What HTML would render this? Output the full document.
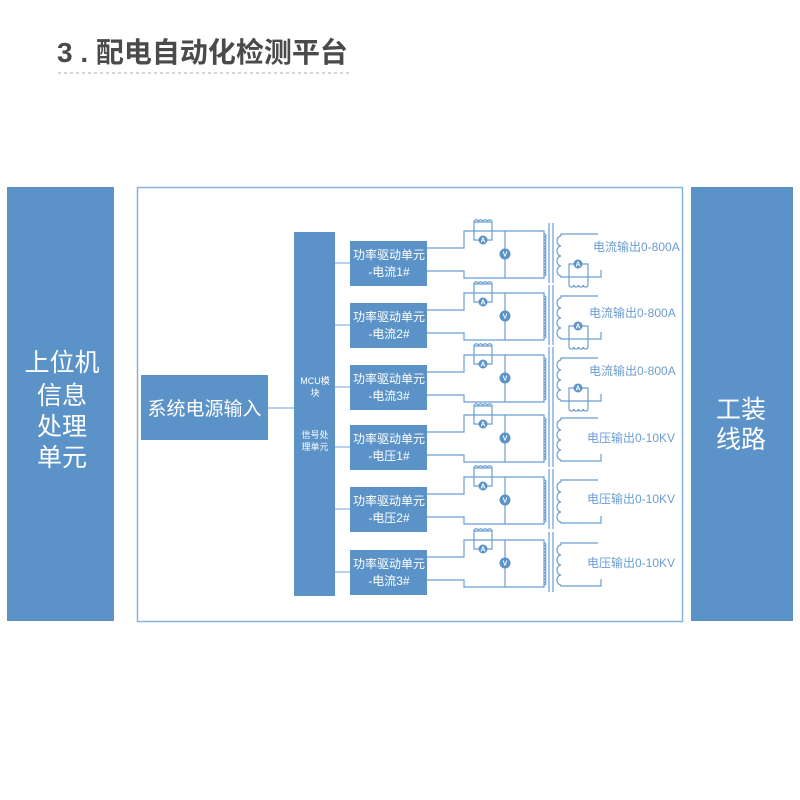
<!DOCTYPE html>
<html><head><meta charset="utf-8"><style>
html,body{margin:0;padding:0;background:#fff;}
svg{display:block}
text{font-family:"Liberation Sans","Noto Sans CJK SC",sans-serif;}
</style></head><body>
<svg width="800" height="800" viewBox="0 0 800 800" xmlns="http://www.w3.org/2000/svg">
<defs>
<g id="prim" fill="none" stroke="#6b9dd0" stroke-width="1.2">
  <path d="M427 248 H464 V231 H544 V278 H464 V271 H427"/>
  <path d="M505 231 V278"/>
  <path d="M474 231 V240 H492 V231"/>
  <path d="M474 231 V222 H492 V231" />
  <path d="M474 222 a2.2 2.2 0 0 1 4.5 0 a2.2 2.2 0 0 1 4.5 0 a2.2 2.2 0 0 1 4.5 0 a2.2 2.2 0 0 1 4.5 0"/>
  <path d="M544 234 a2 1.5 0 0 1 0 3 a2 1.5 0 0 1 0 3 a2 1.5 0 0 1 0 3 a2 1.5 0 0 1 0 3 a2 1.5 0 0 1 0 3 a2 1.5 0 0 1 0 3 a2 1.5 0 0 1 0 3 a2 1.5 0 0 1 0 3 a2 1.5 0 0 1 0 3 a2 1.5 0 0 1 0 3 a2 1.5 0 0 1 0 3 a2 1.5 0 0 1 0 3 a2 1.5 0 0 1 0 3 a2 1.5 0 0 1 0 3"/>
  <path d="M549 223 V283 M553 223 V283"/>
  <circle cx="483" cy="240" r="4.5" fill="#5b93c8" stroke="none"/>
  <circle cx="505" cy="254" r="5.5" fill="#5b93c8" stroke="none"/>
</g>
<g id="sec" fill="none" stroke="#6b9dd0" stroke-width="1.2">
  <path d="M598 234 H561 V236"/>
  <path d="M561 236 a4 5 0 0 0 0 10 a4 5 0 0 0 0 10 a4 5 0 0 0 0 10 a4 5 0 0 0 0 10"/>
  <path d="M561 276 V277 H601 V270"/>
</g>
<g id="secA" fill="none" stroke="#6b9dd0" stroke-width="1.2">
  <path d="M569 277 V264 H588 V277"/>
  <path d="M569 277 V285 M588 277 V285 M569 285 a2.4 2.4 0 0 0 4.75 0 a2.4 2.4 0 0 0 4.75 0 a2.4 2.4 0 0 0 4.75 0 a2.4 2.4 0 0 0 4.75 0"/>
  <circle cx="578" cy="264" r="4.5" fill="#5b93c8" stroke="none"/>
</g>
</defs>

<text x="57" y="62" font-size="28" font-weight="bold" fill="#4a4a4a">3 . 配电自动化检测平台</text>
<line x1="58" y1="73" x2="350" y2="73" stroke="#c8c8c8" stroke-width="1.5" stroke-dasharray="3,3"/>

<rect x="7" y="187" width="107" height="434" fill="#5b93c8"/>
<rect x="691" y="187" width="102" height="434" fill="#5b93c8"/>
<g fill="#fff" font-size="25" text-anchor="middle">
<text x="62" y="371">上位机</text>
<text x="62" y="404">信息</text>
<text x="62" y="435">处理</text>
<text x="62" y="466">单元</text>
<text x="741" y="418">工装</text>
<text x="741" y="448">线路</text>
</g>

<rect x="137.5" y="187.5" width="545" height="434" fill="none" stroke="#8ab3dc" stroke-width="1.5"/>

<rect x="141" y="375" width="127" height="65" fill="#5b93c8"/>
<text x="204.5" y="415" font-size="19" fill="#fff" text-anchor="middle">系统电源输入</text>
<line x1="268" y1="408" x2="294" y2="408" stroke="#8ab3dc" stroke-width="1.2"/>

<rect x="294" y="232" width="41" height="364" fill="#5b93c8"/>
<g fill="#fff" font-size="9" text-anchor="middle">
<text x="315" y="384">MCU模</text>
<text x="315" y="396">块</text>
<text x="315" y="438">信号处</text>
<text x="315" y="450">理单元</text>
</g>

<g stroke="#8ab3dc" stroke-width="1.2">
<line x1="335" y1="263" x2="350" y2="263"/>
<line x1="335" y1="325" x2="350" y2="325"/>
<line x1="335" y1="387" x2="350" y2="387"/>
<line x1="335" y1="447" x2="350" y2="447"/>
<line x1="335" y1="509" x2="350" y2="509"/>
<line x1="335" y1="572" x2="350" y2="572"/>
</g>

<g transform="translate(0,0)"><use href="#prim"/><use href="#sec"/><use href="#secA"/></g>
<g transform="translate(0,62)"><use href="#prim"/><use href="#sec"/><use href="#secA"/></g>
<g transform="translate(0,124)"><use href="#prim"/><use href="#sec"/><use href="#secA"/></g>
<g transform="translate(0,184)"><use href="#prim"/><use href="#sec"/></g>
<g transform="translate(0,246)"><use href="#prim"/><use href="#sec"/></g>
<g transform="translate(0,309)"><use href="#prim"/><use href="#sec"/></g>

<g fill="#5b93c8">
<rect x="350" y="241" width="77" height="45"/>
<rect x="350" y="303" width="77" height="45"/>
<rect x="350" y="365" width="77" height="45"/>
<rect x="350" y="425" width="77" height="45"/>
<rect x="350" y="487" width="77" height="45"/>
<rect x="350" y="550" width="77" height="45"/>
</g>
<g fill="#fff" font-size="12" text-anchor="middle">
<text x="389" y="259">功率驱动单元</text><text x="389" y="276">-电流1#</text>
<text x="389" y="321">功率驱动单元</text><text x="389" y="338">-电流2#</text>
<text x="389" y="383">功率驱动单元</text><text x="389" y="400">-电流3#</text>
<text x="389" y="443">功率驱动单元</text><text x="389" y="460">-电压1#</text>
<text x="389" y="505">功率驱动单元</text><text x="389" y="522">-电压2#</text>
<text x="389" y="568">功率驱动单元</text><text x="389" y="585">-电流3#</text>
</g>
<g fill="#fff" font-size="7" text-anchor="middle" font-weight="bold">
<text x="483" y="242.5">A</text><text x="505" y="256.5">V</text><text x="578" y="266.5">A</text>
<text x="483" y="304.5">A</text><text x="505" y="318.5">V</text><text x="578" y="328.5">A</text>
<text x="483" y="366.5">A</text><text x="505" y="380.5">V</text><text x="578" y="390.5">A</text>
<text x="483" y="426.5">A</text><text x="505" y="440.5">V</text>
<text x="483" y="488.5">A</text><text x="505" y="502.5">V</text>
<text x="483" y="551.5">A</text><text x="505" y="565.5">V</text>
</g>
<g fill="#6b9dd0" font-size="12">
<text x="593" y="251">电流输出0-800A</text>
<text x="589" y="317">电流输出0-800A</text>
<text x="589" y="375">电流输出0-800A</text>
<text x="587" y="442">电压输出0-10KV</text>
<text x="587" y="503">电压输出0-10KV</text>
<text x="587" y="567">电压输出0-10KV</text>
</g>
</svg>
</body></html>
